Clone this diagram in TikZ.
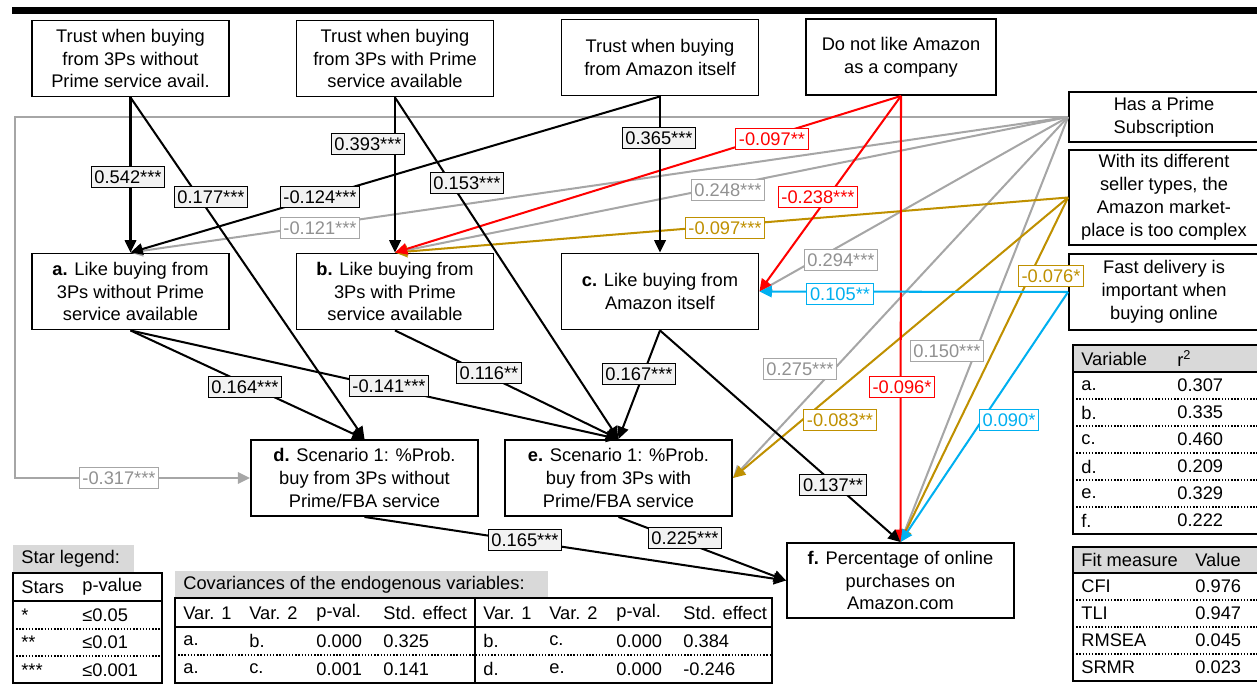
\documentclass[tikz,border=0pt]{standalone}
\usepackage{fontspec}
\setmainfont{Liberation Sans}
\usetikzlibrary{arrows.meta}

\definecolor{cred}{RGB}{255,0,0}
\definecolor{cgray}{RGB}{166,166,166}
\definecolor{cgraytxt}{RGB}{145,145,145}
\definecolor{cgold}{RGB}{191,144,0}
\definecolor{cblue}{RGB}{0,176,240}
\definecolor{lblfill}{RGB}{242,242,242}
\definecolor{hdrfill}{RGB}{217,217,217}

\tikzset{
  box/.style={draw, line width=1.1pt, align=center, minimum width=3.94cm, minimum height=1.52cm, inner sep=1pt},
  widebox/.style={box, minimum width=4.54cm},
  sidebox/.style={box, minimum width=3.8cm},
  arr/.style={line width=1.15pt, -{Triangle[length=7pt,width=6.5pt]}},
  coef/.style={draw, line width=0.7pt, fill=lblfill, inner xsep=1.8pt, inner ysep=0pt, minimum height=0.42cm},
  coefgray/.style={coef, draw=cgray, fill=white, text=cgraytxt},
  coefgold/.style={coef, draw=cgold, fill=white, text=cgold},
  coefred/.style={coef, draw=cred, fill=white, text=cred},
  coefblue/.style={coef, draw=cblue, fill=white, text=cblue},
  cell/.style={anchor=west, inner sep=0pt},
  tabline/.style={line width=1.1pt},
  dotline/.style={densely dotted, line width=0.8pt},
}

\begin{document}
\begin{tikzpicture}[x=0.02cm, y=-0.02cm, font=\fontsize{10.4}{13}\selectfont]
  \useasboundingbox (0,0) rectangle (1257,685);
  \fill (12,7) rectangle (1262,14);

  % predictors
  \node[box] (t1) at (130.5,58.5) {Trust when buying\\from 3Ps without\\Prime service avail.};
  \node[box] (t2) at (395,58.5) {Trust when buying\\from 3Ps with Prime\\service available};
  \node[box] (t3) at (660,57.5) {Trust when buying\\from Amazon itself};
  \node[box, minimum width=3.8cm] (dislike) at (901,57) {Do not like Amazon\\as a company};
  \node[sidebox, minimum height=1cm] (prime) at (1164,117) {Has a Prime\\Subscription};
  \node[sidebox, minimum height=1.9cm] (complex) at (1164,197.5) {With its different\\seller types, the\\Amazon market-\\place is too complex};
  \node[sidebox] (fast) at (1164,292) {Fast delivery is\\important when\\buying online};

  % outcomes
  \node[box] (a) at (130.5,291.5) {\textbf{a.} Like buying from\\3Ps without Prime\\service available};
  \node[box] (b) at (395,291.5) {\textbf{b.} Like buying from\\3Ps with Prime\\service available};
  \node[box] (c) at (660,291.5) {\textbf{c.} Like buying from\\Amazon itself};
  \node[widebox] (d) at (364.5,478) {\textbf{d.} Scenario 1: \%Prob.\\buy from 3Ps without\\Prime/FBA service};
  \node[widebox] (e) at (618.5,478) {\textbf{e.} Scenario 1: \%Prob.\\buy from 3Ps with\\Prime/FBA service};
  \node[widebox, minimum height=1.5cm] (f) at (900.5,580.5) {\textbf{f.} Percentage of online\\purchases on\\Amazon.com};

  % paths
  \coordinate (looptop) at (15,117);
  \coordinate (loopbot) at (15,478);
  \draw[arr, cgray] (prime.west) -- (looptop) -- (loopbot) -- (d.west);
  \draw[arr, cgray] (prime.west) -- (a.north);
  \draw[arr, cgray] (prime.west) -- (b.north);
  \draw[arr, cgray] (prime.west) -- (c.east);
  \draw[arr, cgray] (prime.west) -- (e.east);
  \draw[arr, cgray] (prime.west) -- (f.north);
  \draw[arr, cgold] (complex.west) -- (b.north);
  \draw[arr, cgold] (complex.west) -- (e.east);
  \draw[arr, cgold] (complex.west) -- (f.north);
  \draw[arr, cred] (dislike.south) -- (b.north);
  \draw[arr, cred] (dislike.south) -- (c.east);
  \draw[arr, cred] (dislike.south) -- (f.north);
  \draw[arr, cblue] (fast.west) -- (c.east);
  \draw[arr, cblue] (fast.west) -- (f.north);
  \draw[arr] (t1.south) -- (a.north);
  \draw[arr] (t1.south) -- (d.north);
  \draw[arr] (t2.south) -- (b.north);
  \draw[arr] (t2.south) -- (e.north);
  \draw[arr] (t3.south) -- (a.north);
  \draw[arr] (t3.south) -- (c.north);
  \draw[arr] (a.south) -- (d.north);
  \draw[arr] (a.south) -- (e.north);
  \draw[arr] (b.south) -- (e.north);
  \draw[arr] (c.south) -- (e.north);
  \draw[arr] (c.south) -- (f.north);
  \draw[arr] (d.south) -- (f.west);
  \draw[arr] (e.south) -- (f.west);

  % coefficients
  \node[coef] (k1) at (128,177) {0.542***};
  \node[coef] (k2) at (211,197) {0.177***};
  \node[coef] (k3) at (368,144) {0.393***};
  \node[coef] (k4) at (467,183) {0.153***};
  \node[coef] (k5) at (320,197) {-0.124***};
  \node[coef] (k6) at (659,138) {0.365***};
  \node[coef] (k7) at (245,387) {0.164***};
  \node[coef] (k8) at (389,386) {-0.141***};
  \node[coef] (k9) at (489,373) {0.116**};
  \node[coef] (k10) at (639,374) {0.167***};
  \node[coef] (k11) at (833,485) {0.137**};
  \node[coef] (k12) at (525,540) {0.165***};
  \node[coef] (k13) at (685,538) {0.225***};
  \node[coefgray] (g1) at (119,478) {-0.317***};
  \node[coefgray] (g2) at (320,228) {-0.121***};
  \node[coefgray] (g3) at (728,190) {0.248***};
  \node[coefgray] (g4) at (841,260) {0.294***};
  \node[coefgray] (g5) at (800,369) {0.275***};
  \node[coefgray] (g6) at (947,351) {0.150***};
  \node[coefgold] (o1) at (725,228) {-0.097***};
  \node[coefgold] (o2) at (840,420) {-0.083**};
  \node[coefgold] (o3) at (1051,276) {-0.076*};
  \node[coefred] (r1) at (772,139) {-0.097**};
  \node[coefred] (r2) at (818,197) {-0.238***};
  \node[coefred] (r3) at (902,387) {-0.096*};
  \node[coefblue] (u1) at (840,294) {0.105**};
  \node[coefblue] (u2) at (1009,420) {0.090*};

  % r2 table
  \fill[hdrfill] (1073,345) rectangle (1262,372);
  \draw[tabline] (1073,345) rectangle (1262,534);
  \draw[tabline] (1073,372) -- (1262,372);
  \foreach \y in {399,426,453,480,507}
    \draw[dotline] (1073,\y) -- (1262,\y);
  \node[cell] (rhv) at (1081,358.5) {Variable};
  \node[cell] (rhr) at (1177,358.5) {r\textsuperscript{2}};
  \foreach \v/\r [count=\i] in {a./0.307, b./0.335, c./0.460, d./0.209, e./0.329, f./0.222} {
    \node[cell] (rv\i) at (1081,358.5+27*\i) {\v};
    \node[cell] (rr\i) at (1177,358.5+27*\i) {\r};
  }

  % fit table
  \fill[hdrfill] (1073,547) rectangle (1262,573);
  \draw[tabline] (1073,547) rectangle (1262,681);
  \draw[tabline] (1073,573) -- (1262,573);
  \foreach \y in {600,627,654}
    \draw[dotline] (1073,\y) -- (1262,\y);
  \node[cell] (fhm) at (1081,560) {Fit measure};
  \node[cell] (fhv) at (1195,560) {Value};
  \foreach \m/\v [count=\i] in {CFI/0.976, TLI/0.947, RMSEA/0.045, SRMR/0.023} {
    \node[cell] (fm\i) at (1081,559.5+27*\i) {\m};
    \node[cell] (fv\i) at (1195,559.5+27*\i) {\v};
  }

  % star legend
  \fill[hdrfill] (13,545) rectangle (134,573);
  \node[cell] (sl) at (21,559) {Star legend:};
  \draw[tabline] (13,573) rectangle (162,683);
  \draw[tabline] (13,601) -- (162,601);
  \draw[dotline] (13,629) -- (162,629);
  \draw[dotline] (13,656) -- (162,656);
  \node[cell] (sh1) at (21,587) {Stars};
  \node[cell] (sh2) at (82,587) {p-value};
  \foreach \s/\p [count=\i] in {*/0.05, **/0.01, ***/0.001} {
    \node[cell] (ss\i) at (21,587.5+27.5*\i) {\s};
    \node[cell] (sp\i) at (82,587.5+27.5*\i) {≤\p};
  }

  % covariances
  \fill[hdrfill] (175,571) rectangle (548,598);
  \node[cell] (cv) at (183,585) {Covariances of the endogenous variables:};
  \draw[tabline] (175,598) rectangle (772,683);
  \draw[tabline] (175,627) -- (772,627);
  \draw[dotline] (175,655) -- (772,655);
  \draw[line width=0.8pt] (475,598) -- (475,683);
  \foreach \x [count=\i] in {183,483} {
    \node[cell] (cha\i) at (\x,613) {Var. 1};
    \node[cell] (chb\i) at (\x+66,613) {Var. 2};
    \node[cell] (chc\i) at (\x+133,613) {p-val.};
    \node[cell] (chd\i) at (\x+200,613) {Std. effect};
  }
  \foreach \x/\p/\q/\s/\t/\y [count=\i] in {183/a./b./0.000/0.325/641, 183/a./c./0.001/0.141/669, 483/b./c./0.000/0.384/641, 483/d./e./0.000/-0.246/669} {
    \node[cell] (cra\i) at (\x,\y) {\p};
    \node[cell] (crb\i) at (\x+66,\y) {\q};
    \node[cell] (crc\i) at (\x+133,\y) {\s};
    \node[cell] (crd\i) at (\x+200,\y) {\t};
  }
\end{tikzpicture}
\end{document}
